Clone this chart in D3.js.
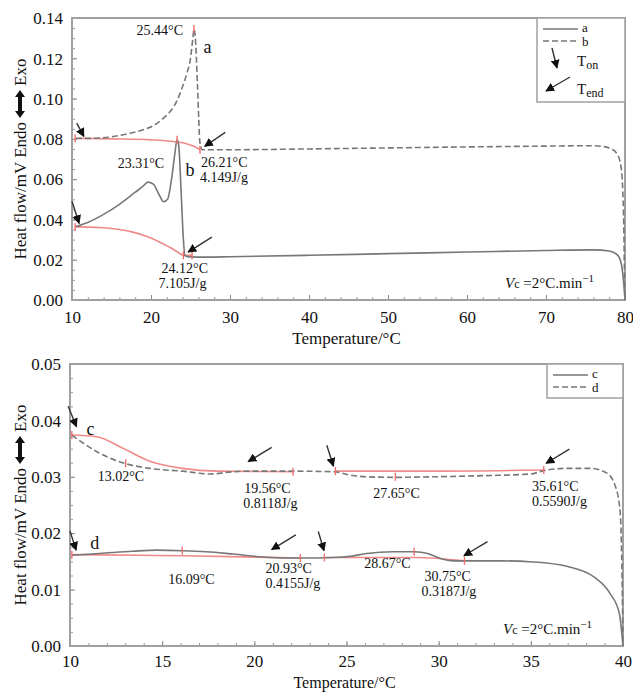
<!DOCTYPE html>
<html>
<head>
<meta charset="utf-8">
<script src="https://cdn.jsdelivr.net/npm/d3@7"></script>
<style>
  body { margin: 0; background: #fff; }
  svg text { font-family: "Liberation Serif", "Times New Roman", serif; fill: #111; }
</style>
</head>
<body>
<div id="chart"></div>
<script>
// ---------- top panel (a, b) ----------
const curveA = [[10.5,0.0802],[13,0.0803],[15,0.0810],[17,0.0825],[19,0.0845],[20.5,0.0870],[21.5,0.0900],[22.5,0.0940],[23.3,0.0990],[24,0.1060],[24.5,0.1120],[25,0.1200],[25.3,0.1300],[25.44,0.1345],[25.6,0.1310],[25.9,0.1050],[26.2,0.0780],[26.5,0.0746],[30,0.0746],[40,0.0750],[50,0.0755],[60,0.0760],[70,0.0764],[76,0.0766],[78,0.0755],[79,0.0725],[79.5,0.0660],[79.8,0.0450],[79.95,0.0100],[80,0]];
const curveB = [[10.5,0.0365],[12,0.0385],[14,0.0425],[16,0.0475],[18,0.0535],[19,0.0565],[19.6,0.0585],[20.3,0.0575],[21,0.0525],[21.6,0.0488],[22.1,0.0500],[22.6,0.0600],[23,0.0720],[23.3,0.0795],[23.5,0.0770],[23.8,0.0550],[24.1,0.0300],[24.3,0.0220],[25,0.0214],[27,0.0213],[30,0.0215],[40,0.0222],[50,0.0230],[60,0.0238],[70,0.0246],[76,0.0249],[78,0.0243],[79,0.0225],[79.5,0.0185],[79.8,0.0100],[80,0]];
const baseA = [[10.4,0.0803],[15,0.0800],[20,0.0795],[23,0.0786],[24.5,0.0776],[25.5,0.0762],[26.2,0.0746]];
const baseB = [[10.4,0.0363],[13.5,0.0360],[16,0.0350],[17.7,0.0337],[19.5,0.0315],[21.1,0.0287],[22.8,0.0252],[23.6,0.0232],[24.1,0.0222],[25.2,0.0222]];
const marksTop = [[10.4,0.0803],[26.2,0.0746],[25.44,0.1345],[23.3,0.0795],[10.4,0.0363],[24.1,0.0222],[25.2,0.0222]];
const arrowsTop = [[10.6,0.0878,11.5,0.0812],[29.4,0.0832,26.8,0.0763],[10.0,0.0490,10.9,0.0380],[27.7,0.0312,24.7,0.0238]];
const labelsTop = [
  {t:"25.44°C", x:25.44, y:0.1345, dx:-11, dy:6, anchor:"end"},
  {t:"a", x:25.9, y:0.1345, dx:6, dy:24, anchor:"start", big:true},
  {t:"23.31°C", x:23.31, y:0.0795, dx:-13, dy:28, anchor:"end"},
  {t:"b", x:24.0, y:0.0795, dx:3, dy:36, anchor:"start", big:true},
  {t:"26.21°C", x:26.21, y:0.0746, dx:1, dy:17, anchor:"start"},
  {t:"4.149J/g", x:26.21, y:0.0746, dx:0, dy:32, anchor:"start"},
  {t:"24.12°C", x:24.12, y:0.0222, dx:-22, dy:18, anchor:"start"},
  {t:"7.105J/g", x:24.12, y:0.0222, dx:-25, dy:33, anchor:"start"}
];
const ticksTopX = [10,20,30,40,50,60,70,80];
const ticksTopY = [0,0.02,0.04,0.06,0.08,0.10,0.12,0.14];

// ---------- bottom panel (c, d) ----------
const curveC = [[10.1,0.0374],[11.6,0.0342],[12.95,0.0324],[14.3,0.0315],[16.1,0.0310],[17.6,0.0305],[18.85,0.0309],[19.56,0.0310],[22.1,0.0310],[24.3,0.0309],[25.2,0.0303],[26.1,0.0300],[27.6,0.0299],[29.7,0.0300],[32.4,0.0302],[35,0.0305],[35.7,0.0311],[37,0.0315],[38.2,0.0315],[39.1,0.0307],[39.6,0.0282],[39.85,0.0236],[39.95,0.0120],[40,0]];
const curveD = [[10.1,0.0161],[11.6,0.0164],[13.4,0.0168],[14.7,0.0170],[16.1,0.0169],[17.4,0.0167],[18.85,0.0163],[20.85,0.0157],[22.5,0.0156],[24.3,0.0157],[25.2,0.0159],[26.1,0.0164],[27.5,0.0167],[28.7,0.0167],[29.4,0.0164],[30.1,0.0155],[30.8,0.0151],[32.1,0.0151],[33.3,0.0151],[35.1,0.0149],[37,0.0141],[38.4,0.0123],[39.3,0.0093],[39.8,0.0058],[40,0]];
const baseC1 = [[10.1,0.0374],[11.45,0.0371],[12.9,0.0350],[14.3,0.0328],[16.1,0.0315],[17.95,0.0310],[22.1,0.0309]];
const baseC2 = [[24.4,0.0310],[30,0.0310],[35.7,0.0312]];
const baseD1 = [[10.1,0.0162],[16.1,0.0160],[22.5,0.0156]];
const baseD2 = [[23.8,0.0157],[28.7,0.0157],[31.4,0.0151]];
const marksBottom = [[10.1,0.0374],[13.02,0.0324],[22.1,0.0309],[24.4,0.0310],[27.65,0.0300],[35.7,0.0312],[10.1,0.0162],[16.09,0.0169],[22.5,0.0156],[23.8,0.0157],[28.67,0.0167],[31.4,0.0151]];
const arrowsBottom = [[9.9,0.0425,10.35,0.0389],[20.94,0.0352,19.67,0.0327],[23.93,0.0356,24.29,0.0319],[37.09,0.0349,35.83,0.0324],[10.0,0.0204,10.33,0.0170],[22.25,0.0197,20.94,0.0171],[23.47,0.0203,23.78,0.0169],[32.65,0.0185,31.37,0.0160]];
const labelsBottom = [
  {t:"c", x:10.9, y:0.0374, dx:0, dy:0, anchor:"start", big:true},
  {t:"13.02°C", x:11.5, y:0.0324, dx:0, dy:18, anchor:"start"},
  {t:"19.56°C", x:19.56, y:0.0310, dx:-2, dy:22, anchor:"start"},
  {t:"0.8118J/g", x:19.56, y:0.0310, dx:-3, dy:37, anchor:"start"},
  {t:"27.65°C", x:27.65, y:0.0300, dx:-22, dy:21, anchor:"start"},
  {t:"35.61°C", x:35.61, y:0.0312, dx:-10, dy:21, anchor:"start"},
  {t:"0.5590J/g", x:35.61, y:0.0312, dx:-10, dy:36, anchor:"start"},
  {t:"d", x:11.1, y:0.0162, dx:0, dy:-6, anchor:"start", big:true},
  {t:"16.09°C", x:16.09, y:0.0160, dx:-14, dy:28, anchor:"start"},
  {t:"20.93°C", x:20.93, y:0.0157, dx:-6, dy:16, anchor:"start"},
  {t:"0.4155J/g", x:20.93, y:0.0157, dx:-6, dy:31, anchor:"start"},
  {t:"28.67°C", x:28.67, y:0.0167, dx:-50, dy:16, anchor:"start"},
  {t:"30.75°C", x:30.75, y:0.0151, dx:-28, dy:20, anchor:"start"},
  {t:"0.3187J/g", x:30.75, y:0.0151, dx:-31, dy:35, anchor:"start"}
];
const ticksBottomX = [10,15,20,25,30,35,40];
const ticksBottomY = [0,0.01,0.02,0.03,0.04,0.05];

const svg = d3.select("#chart").append("svg").attr("width", 633).attr("height", 692);

const defs = svg.append("defs");
defs.append("marker").attr("id", "head")
  .attr("viewBox", "0 0 10 10").attr("refX", 9).attr("refY", 5)
  .attr("markerWidth", 9).attr("markerHeight", 9).attr("orient", "auto")
  .attr("markerUnits", "userSpaceOnUse")
  .append("path").attr("d", "M0,0L10,5L0,10z").attr("fill", "#111");

function panel(cfg) {
  const x = d3.scaleLinear().domain(cfg.xDomain).range([cfg.left, cfg.right]);
  const y = d3.scaleLinear().domain(cfg.yDomain).range([cfg.bottom, cfg.top]);
  const g = svg.append("g");
  const line = d3.line().x(d => x(d[0])).y(d => y(d[1])).curve(d3.curveMonotoneX);

  // minor + major ticks drawn inward
  const xMinor = d3.range(cfg.xDomain[0], cfg.xDomain[1] + 1e-9, cfg.xMinor);
  const yMinor = d3.range(cfg.yDomain[0], cfg.yDomain[1] + 1e-9, cfg.yMinor);
  g.append("g").attr("transform", `translate(0,${cfg.bottom})`)
    .call(d3.axisBottom(x).tickValues(xMinor).tickSize(-3).tickFormat(""))
    .call(a => a.select(".domain").remove())
    .selectAll("line").attr("stroke", "#999");
  g.append("g").attr("transform", `translate(${cfg.left},0)`)
    .call(d3.axisLeft(y).tickValues(yMinor).tickSize(-3).tickFormat(""))
    .call(a => a.select(".domain").remove())
    .selectAll("line").attr("stroke", "#999");

  const xAxis = g.append("g").attr("transform", `translate(0,${cfg.bottom})`)
    .call(d3.axisBottom(x).tickValues(cfg.xTicks).tickSize(-5).tickPadding(cfg.xPad).tickFormat(d3.format("d")));
  xAxis.select(".domain").remove();
  xAxis.selectAll("line").attr("stroke", "#888");
  xAxis.selectAll("text").style("font-size", "17px").style("font-family", "Liberation Serif").attr("fill", "#111");

  const yAxis = g.append("g").attr("transform", `translate(${cfg.left},0)`)
    .call(d3.axisLeft(y).tickValues(cfg.yTicks).tickSize(-5).tickPadding(9).tickFormat(d3.format(".2f")));
  yAxis.select(".domain").remove();
  yAxis.selectAll("line").attr("stroke", "#888");
  yAxis.selectAll("text").style("font-size", "17px").style("font-family", "Liberation Serif").attr("fill", "#111").attr("dy", "0.34em");

  // frame
  g.append("rect").attr("x", cfg.left).attr("y", cfg.top)
    .attr("width", cfg.right - cfg.left).attr("height", cfg.bottom - cfg.top)
    .attr("fill", "none").attr("stroke", "#a0a0a0").attr("stroke-width", 2);

  // baselines (red)
  cfg.bases.forEach(b => {
    g.append("path").datum(b).attr("d", line).attr("fill", "none")
      .attr("stroke", "#f08a8a").attr("stroke-width", 1.6);
  });

  // curves
  g.append("path").datum(cfg.dashed).attr("d", line).attr("fill", "none")
    .attr("stroke", "#777").attr("stroke-width", 1.6).attr("stroke-dasharray", "6,3");
  g.append("path").datum(cfg.solid).attr("d", line).attr("fill", "none")
    .attr("stroke", "#777").attr("stroke-width", 1.6);

  // red tick marks
  g.selectAll(null).data(cfg.marks).join("line")
    .attr("x1", d => x(d[0])).attr("x2", d => x(d[0]))
    .attr("y1", d => y(d[1]) - 4).attr("y2", d => y(d[1]) + 4)
    .attr("stroke", "#f07070").attr("stroke-width", 1.4);

  // arrows
  g.selectAll(null).data(cfg.arrows).join("line")
    .attr("x1", d => x(d[0])).attr("y1", d => y(d[1]))
    .attr("x2", d => x(d[2])).attr("y2", d => y(d[3]))
    .attr("stroke", "#333").attr("stroke-width", 1.4).attr("marker-end", "url(#head)");

  // annotation labels
  g.selectAll(null).data(cfg.labels).join("text")
    .attr("x", d => x(d.x) + d.dx).attr("y", d => y(d.y) + d.dy)
    .attr("text-anchor", d => d.anchor)
    .style("font-size", d => d.big ? "18px" : "14px")
    .text(d => d.t);

  // Vc label
  const vc = g.append("text").attr("x", cfg.right - 120).attr("y", cfg.bottom - 12).style("font-size", "15px");
  vc.append("tspan").style("font-style", "italic").text("V");
  vc.append("tspan").style("font-size", "12px").text("c");
  vc.append("tspan").text(" =2°C.min");
  vc.append("tspan").attr("dy", -6).style("font-size", "11px").text("−1");

  // axis title
  g.append("text").attr("x", (cfg.left + cfg.right) / 2 - 2).attr("y", cfg.bottom + cfg.titleDy)
    .attr("text-anchor", "middle").style("font-size", cfg.titleSize).text("Temperature/°C");

  // y title: Heat flow/mV Endo <-> Exo
  const yt = g.append("g").attr("transform", `translate(26,${(cfg.top + cfg.bottom) / 2}) rotate(-90)`);
  const part1 = yt.append("text").style("font-size", "17px").text("Heat flow/mV  Endo");
  const part2 = yt.append("text").style("font-size", "17px").text("Exo");
  const w1 = part1.node().getComputedTextLength();
  const w2 = part2.node().getComputedTextLength();
  const aw = 28, gap = 4;
  const total = w1 + gap + aw + gap + w2;
  part1.attr("x", -total / 2);
  const ax0 = -total / 2 + w1 + gap;
  part2.attr("x", ax0 + aw + gap);
  yt.append("path")
    .attr("d", `M${ax0},-6 l7,-5 v3 h${aw - 14} v-3 l7,5 l-7,5 v-3 h${-(aw - 14)} v3 z`)
    .attr("fill", "#111");

  // legend
  const lg = g.append("g");
  lg.append("rect").attr("x", cfg.legend.x).attr("y", cfg.top)
    .attr("width", cfg.right - cfg.legend.x).attr("height", cfg.legend.h)
    .attr("fill", "#fff").attr("stroke", "#a0a0a0").attr("stroke-width", 1.5);
  cfg.legend.items.forEach((it, i) => {
    const ly = cfg.top + 11 + i * 12;
    lg.append("line").attr("x1", cfg.legend.x + 6).attr("x2", cfg.legend.x + 41)
      .attr("y1", ly).attr("y2", ly).attr("stroke", "#777").attr("stroke-width", 1.6)
      .attr("stroke-dasharray", it.dashed ? "6,3" : null);
    lg.append("text").attr("x", cfg.legend.x + 45).attr("y", cfg.top + 14 + i * 14)
      .style("font-size", "13px").text(it.name);
  });
  return lg;
}

const lgTop = panel({
  left: 72, right: 625, top: 18, bottom: 300, titleDy: 44, titleSize: "17px", xPad: 11,
  xDomain: [10, 80], yDomain: [0, 0.14], xMinor: 2, yMinor: 0.005,
  xTicks: ticksTopX, yTicks: ticksTopY,
  dashed: curveA, solid: curveB, bases: [baseA, baseB],
  marks: marksTop, arrows: arrowsTop, labels: labelsTop,
  legend: { x: 537, h: 84, items: [{name: "a", dashed: false}, {name: "b", dashed: true}] }
});
// legend arrows for T_on / T_end
lgTop.append("line").attr("x1", 552).attr("y1", 48).attr("x2", 557).attr("y2", 68)
  .attr("stroke", "#333").attr("stroke-width", 1.4).attr("marker-end", "url(#head)");
lgTop.append("line").attr("x1", 570).attr("y1", 77).attr("x2", 546).attr("y2", 91)
  .attr("stroke", "#333").attr("stroke-width", 1.4).attr("marker-end", "url(#head)");
const ton = lgTop.append("text").attr("x", 577).attr("y", 66).style("font-size", "15px");
ton.append("tspan").text("T");
ton.append("tspan").attr("dy", 3).style("font-size", "12px").text("on");
const tend = lgTop.append("text").attr("x", 577).attr("y", 94).style("font-size", "15px");
tend.append("tspan").text("T");
tend.append("tspan").attr("dy", 3).style("font-size", "12px").text("end");

panel({
  left: 70, right: 623, top: 364, bottom: 646, titleDy: 42, titleSize: "16px", xPad: 9,
  xDomain: [10, 40], yDomain: [0, 0.05], xMinor: 1, yMinor: 0.0025,
  xTicks: ticksBottomX, yTicks: ticksBottomY,
  dashed: curveC, solid: curveD, bases: [baseC1, baseC2, baseD1, baseD2],
  marks: marksBottom, arrows: arrowsBottom, labels: labelsBottom,
  legend: { x: 547, h: 34, items: [{name: "c", dashed: false}, {name: "d", dashed: true}] }
});
</script>
</body>
</html>
